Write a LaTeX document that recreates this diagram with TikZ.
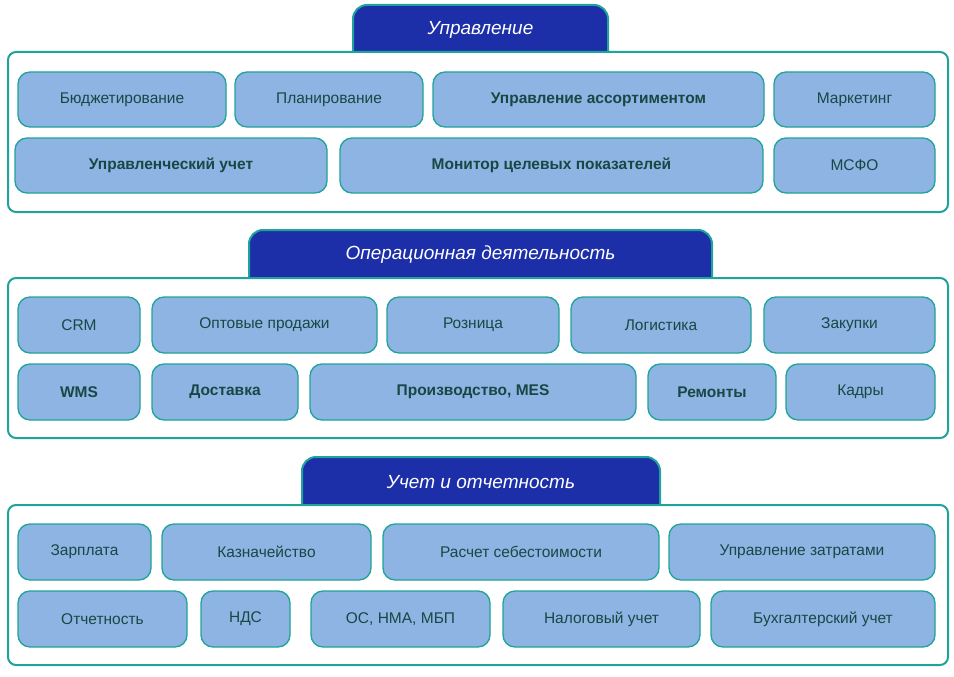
\documentclass[tikz,border=0pt]{standalone}
\usepackage{fontspec}
\setmainfont{Liberation Sans}
\definecolor{tealb}{HTML}{1FA39A}
\definecolor{boxf}{HTML}{8DB4E2}
\definecolor{tabf}{HTML}{1C2FA8}
\definecolor{txt}{HTML}{1B4645}
\tikzset{
 frame/.style={draw=tealb,line width=2pt,rounded corners=8pt,fill=white},
 tab/.style={draw=tealb,line width=2pt,fill=tabf,rounded corners=14pt},
 tabt/.style={text=white,font=\fontsize{19}{22}\selectfont\itshape},
 bx/.style={draw=tealb,line width=1.3pt,fill=boxf,rounded corners=12pt},
 lbl/.style={text=txt,font=\fontsize{15.5}{18}\selectfont},
 blbl/.style={text=txt,font=\fontsize{15.5}{18}\selectfont\bfseries}
}
\newcommand{\bxx}[6]{\draw[bx] (#1,#3) rectangle (#2,#4); \node[#6] (n#1x#3) at ({(#1+#2)/2},{(#3+#4)/2}) {#5};}
\newcommand{\sect}[6]{%
 \draw[tab] (#1,#4+12) |- (#2,#3) -- (#2,#4+12);
 \fill[tabf] (#1+1,#4-2) rectangle (#2-1,#4+12);
 \node[tabt] (t#3) at ({(#1+#2)/2},{(#3+#4)/2+1}) {#5};
 \draw[frame] (8,#4) rectangle (948,#6);}
\begin{document}
\begin{tikzpicture}[x=1pt,y=-1pt]
\useasboundingbox (0,0) rectangle (954,677);
\sect{353}{608}{5}{52}{Управление}{212}
\bxx{18}{226}{72}{127}{Бюджетирование}{lbl}
\bxx{235}{423}{72}{127}{Планирование}{lbl}
\bxx{433}{764}{72}{127}{Управление ассортиментом}{blbl}
\bxx{774}{935}{72}{127}{Маркетинг}{lbl}
\bxx{15}{327}{138}{193}{Управленческий учет}{blbl}
\bxx{340}{763}{138}{193}{Монитор целевых показателей}{blbl}
\bxx{774}{935}{138}{193}{МСФО}{lbl}
\sect{249}{712}{230}{278}{Операционная деятельность}{438}
\bxx{18}{140}{297}{353}{CRM}{lbl}
\bxx{152}{377}{297}{353}{Оптовые продажи}{lbl}
\bxx{387}{559}{297}{353}{Розница}{lbl}
\bxx{571}{751}{297}{353}{Логистика}{lbl}
\bxx{764}{935}{297}{353}{Закупки}{lbl}
\bxx{18}{140}{364}{420}{WMS}{blbl}
\bxx{152}{298}{364}{420}{Доставка}{blbl}
\bxx{310}{636}{364}{420}{Производство, MES}{blbl}
\bxx{648}{776}{364}{420}{Ремонты}{blbl}
\bxx{786}{935}{364}{420}{Кадры}{lbl}
\sect{302}{660}{457}{505}{Учет и отчетность}{665}
\bxx{18}{151}{524}{580}{Зарплата}{lbl}
\bxx{162}{371}{524}{580}{Казначейство}{lbl}
\bxx{383}{659}{524}{580}{Расчет себестоимости}{lbl}
\bxx{669}{935}{524}{580}{Управление затратами}{lbl}
\bxx{18}{187}{591}{647}{Отчетность}{lbl}
\bxx{201}{290}{591}{647}{НДС}{lbl}
\bxx{311}{490}{591}{647}{ОС, НМА, МБП}{lbl}
\bxx{503}{700}{591}{647}{Налоговый учет}{lbl}
\bxx{711}{935}{591}{647}{Бухгалтерский учет}{lbl}
\end{tikzpicture}
\end{document}
